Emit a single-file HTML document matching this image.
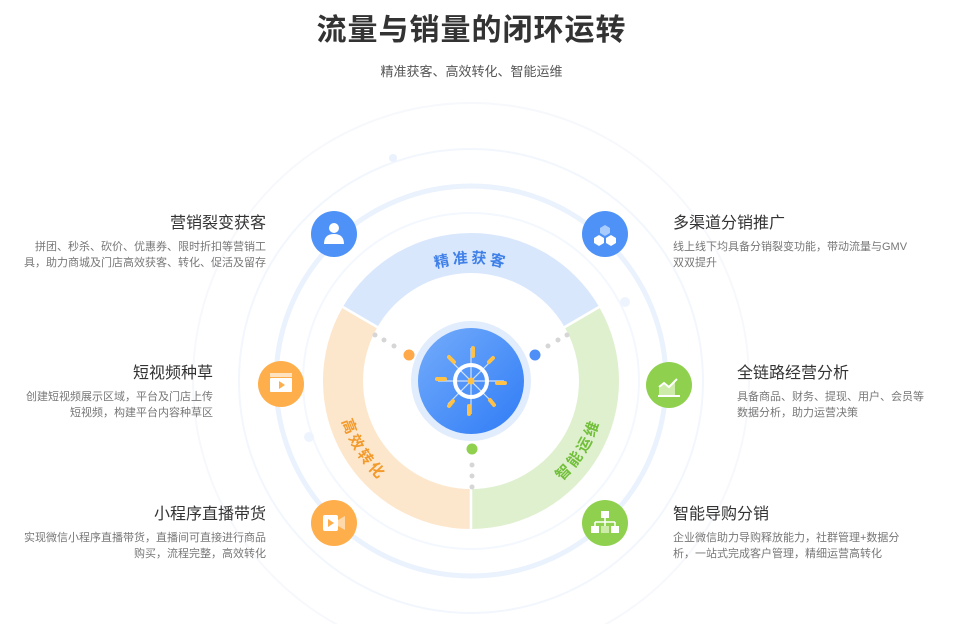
<!DOCTYPE html>
<html style="overflow:hidden"><head><meta charset="utf-8"><style>
html,body{margin:0;width:963px;height:624px;overflow:hidden}
body{background:#fff;position:relative;font-family:"Liberation Sans","Noto Sans CJK SC",sans-serif;}
.t{position:absolute;font-size:16px;color:#333;white-space:nowrap;line-height:20px}
.d{position:absolute;font-size:11px;color:#777;line-height:16px;white-space:nowrap}
.r{text-align:right}
</style></head><body>
<svg width="963" height="624" style="position:absolute;left:0;top:0">
<defs>
<linearGradient id="g" x1="0" y1="0" x2="1" y2="1"><stop offset="0" stop-color="#74acfb"/><stop offset="1" stop-color="#2f7cf6"/></linearGradient>
<path id="tp" d="M 368.8 322 A 118 118 0 0 1 573.2 322"/>
<path id="lp" d="M 336.5 392.8 A 135 135 0 0 0 403.5 497.9"/>
<path id="rp" d="M 538.5 497.9 A 135 135 0 0 0 605.5 392.8"/>
</defs>
<g fill="none">
<circle cx="471" cy="381" r="195" stroke="#eaf2fe" stroke-width="5"/>
<circle cx="471" cy="381" r="168" stroke="#f3f7fe" stroke-width="2"/>
<circle cx="471" cy="381" r="232" stroke="#f2f6fd" stroke-width="2"/>
<circle cx="471" cy="381" r="278" stroke="#f6f8fc" stroke-width="2"/>
</g>
<circle cx="393" cy="158" r="4" fill="#eaf2fe"/>
<circle cx="625" cy="302" r="5" fill="#eef4fe"/>
<circle cx="309" cy="437" r="5" fill="#eef4fe"/>
<path d="M 342.8 307 A 148 148 0 0 1 599.2 307 L 564.5 327 A 108 108 0 0 0 377.5 327 Z" fill="#d9e7fd"/>
<path d="M 342.8 307 A 148 148 0 0 0 471 529 L 471 489 A 108 108 0 0 1 377.5 327 Z" fill="#fde7cc"/>
<path d="M 599.2 307 A 148 148 0 0 1 471 529 L 471 489 A 108 108 0 0 0 564.5 327 Z" fill="#dff0cf"/>
<g stroke="#fff" stroke-width="2.5"><line x1="342" y1="306.5" x2="378" y2="327.5"/><line x1="600" y1="306.5" x2="564" y2="327.5"/><line x1="471" y1="489" x2="471" y2="530"/></g>
<g font-size="15" font-weight="bold" letter-spacing="3">
<text fill="#3f80e8"><textPath href="#tp" startOffset="50%" text-anchor="middle">精准获客</textPath></text>
<text fill="#f39a2c"><textPath href="#lp" startOffset="50%" text-anchor="middle">高效转化</textPath></text>
<text fill="#72bf3a"><textPath href="#rp" startOffset="50%" text-anchor="middle">智能运维</textPath></text>
</g>
<g fill="#d6d6d6"><circle cx="375" cy="335" r="2.5"/><circle cx="384" cy="340" r="2.5"/><circle cx="394" cy="346" r="2.5"/>
<circle cx="567" cy="335" r="2.5"/><circle cx="558" cy="340" r="2.5"/><circle cx="548" cy="346" r="2.5"/>
<circle cx="472" cy="465" r="2.5"/><circle cx="472" cy="476" r="2.5"/><circle cx="472" cy="487" r="2.5"/></g>
<circle cx="409" cy="355" r="5.5" fill="#ffa94a"/>
<circle cx="535" cy="355" r="5.5" fill="#4e8ff7"/>
<circle cx="472" cy="449" r="5.5" fill="#8fd14e"/>
<circle cx="471" cy="381" r="60" fill="#e1edfd"/>
<circle cx="471" cy="381" r="53" fill="url(#g)"/>
<g stroke="#cfe2ff" stroke-width="1.2"><line x1="471" y1="348" x2="471" y2="414"/><line x1="438" y1="381" x2="504" y2="381"/><line x1="448" y1="358" x2="494" y2="404"/><line x1="494" y1="358" x2="448" y2="404"/></g>
<g stroke="#ffc247" stroke-width="4" stroke-linecap="round"><line x1="473" y1="348" x2="473" y2="356"/><line x1="469" y1="406" x2="469" y2="414"/><line x1="437" y1="379" x2="445" y2="379"/><line x1="497" y1="383" x2="505" y2="383"/><line x1="449" y1="357" x2="454" y2="362"/><line x1="490" y1="400" x2="494" y2="405"/><line x1="493" y1="358" x2="489" y2="362"/><line x1="449" y1="406" x2="453" y2="401"/></g>
<circle cx="471" cy="381" r="16" fill="none" stroke="#fff" stroke-width="4"/>
<circle cx="471" cy="381" r="3.5" fill="#ffc247"/>
<circle cx="334" cy="234" r="23" fill="#4e92f8"/>
<circle cx="334" cy="228" r="5" fill="#fff"/><path d="M324 244 q0 -10 10 -10 q10 0 10 10z" fill="#fff"/>
<circle cx="605" cy="234" r="23" fill="#4e92f8"/>
<path d="M605 225 l5 3 v5 l-5 3 l-5 -3 v-5z" fill="#a9ccff"/><path d="M599 235 l5 3 v5 l-5 3 l-5 -3 v-5z M611 235 l5 3 v5 l-5 3 l-5 -3 v-5z" fill="#fff"/>
<circle cx="281" cy="384" r="23" fill="#ffae4c"/>
<rect x="270" y="378" width="22" height="14" rx="1" fill="#fff"/><rect x="270" y="373" width="22" height="4" fill="#ffe3c0"/><path d="M279 381 l6 4 l-6 4z" fill="#ffae4c"/>
<circle cx="334" cy="523" r="23" fill="#ffae4c"/>
<rect x="323" y="515" width="15" height="16" rx="2" fill="#fff"/><path d="M338 520 l7 -4 v14 l-7 -4z" fill="#ffd9aa"/><path d="M328 519 l6 4 l-6 4z" fill="#ffae4c"/>
<circle cx="669" cy="385" r="23" fill="#8fd14e"/>
<path d="M659 395 v-8 l5 -4 l5 4 l6 -6 v14z" fill="#cdeca9"/><path d="M659 387 l5 -4 l5 4 l8 -8" stroke="#fff" stroke-width="2" fill="none"/><line x1="658" y1="396" x2="680" y2="396" stroke="#fff" stroke-width="2"/>
<circle cx="605" cy="523" r="23" fill="#8fd14e"/>
<rect x="601" y="511" width="8" height="7" fill="#fff"/><path d="M605 518 v4 M595 522 h20 M595 522 v4 M605 522 v4 M615 522 v4" stroke="#fff" stroke-width="1.5"/><rect x="591" y="526" width="8" height="7" fill="#fff"/><rect x="601" y="526" width="8" height="7" fill="#cdeca9"/><rect x="611" y="526" width="8" height="7" fill="#fff"/>
</svg>
<div style="position:absolute;left:0;width:943px;top:5px;text-align:center;font-size:30px;font-weight:bold;color:#333;letter-spacing:1px">流量与销量的闭环运转</div>
<div style="position:absolute;left:0;width:943px;top:61px;text-align:center;font-size:13px;color:#555">精准获客、高效转化、智能运维</div>

<div class="t r" style="right:697px;top:214px">营销裂变获客</div>
<div class="d r" style="right:697px;top:239px">拼团、秒杀、砍价、优惠券、限时折扣等营销工<br>具，助力商城及门店高效获客、转化、促活及留存</div>
<div class="t r" style="right:750px;top:364px">短视频种草</div>
<div class="d r" style="right:750px;top:389px">创建短视频展示区域，平台及门店上传<br>短视频，构建平台内容种草区</div>
<div class="t r" style="right:697px;top:505px">小程序直播带货</div>
<div class="d r" style="right:697px;top:530px">实现微信小程序直播带货，直播间可直接进行商品<br>购买，流程完整，高效转化</div>

<div class="t" style="left:673px;top:214px">多渠道分销推广</div>
<div class="d" style="left:673px;top:239px">线上线下均具备分销裂变功能，带动流量与GMV<br>双双提升</div>
<div class="t" style="left:737px;top:364px">全链路经营分析</div>
<div class="d" style="left:737px;top:389px">具备商品、财务、提现、用户、会员等<br>数据分析，助力运营决策</div>
<div class="t" style="left:673px;top:505px">智能导购分销</div>
<div class="d" style="left:673px;top:530px">企业微信助力导购释放能力，社群管理+数据分<br>析，一站式完成客户管理，精细运营高转化</div>
</body></html>
